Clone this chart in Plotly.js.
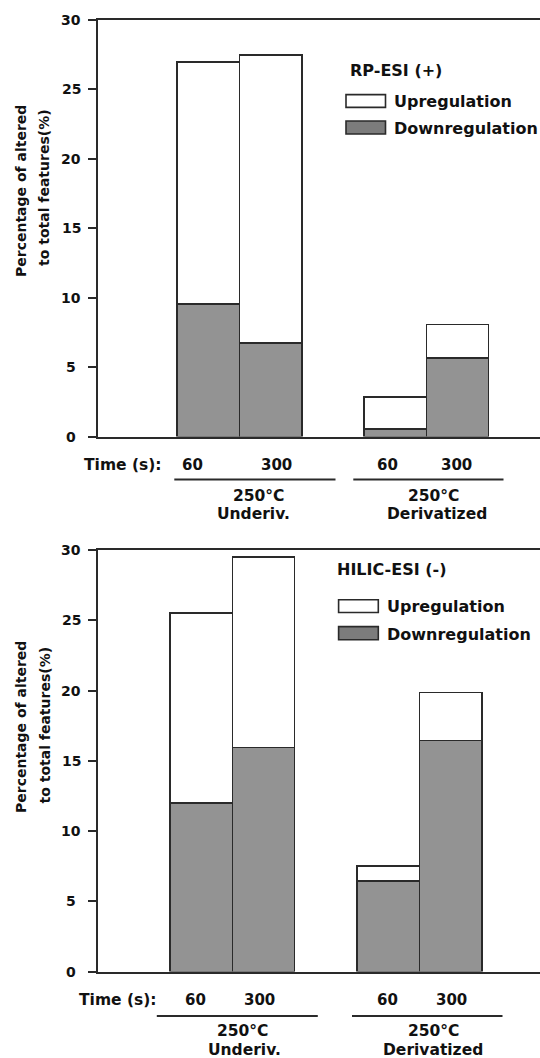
<!DOCTYPE html>
<html>
<head>
<meta charset="utf-8">
<script src="https://cdn.plot.ly/plotly-3.0.1.min.js"></script>
<style>html,body{margin:0;padding:0;background:#fff;}#chart{width:540px;height:1058px;}</style>
</head>
<body>
<div id="chart"></div>
<script>
// ---- data ----
const categories = ['Underiv. 60 s', 'Underiv. 300 s', 'Derivatized 60 s', 'Derivatized 300 s'];
const timeLabels = ['60', '300', '60', '300'];
const groupLabels = ['250°C<br>Underiv.', '250°C<br>Derivatized'];
const seriesNames = ['Downregulation', 'Upregulation'];
const panelTitles = ['RP-ESI (+)', 'HILIC-ESI (-)'];
const rpDown = [9.55, 6.75, 0.55, 5.65];
const rpUp = [17.4, 20.7, 2.3, 2.4];
const hilicDown = [12.0, 15.93, 6.45, 16.44];
const hilicUp = [13.5, 13.57, 1.06, 3.42];
const yTicks = [0, 5, 10, 15, 20, 25, 30];

// ---- helpers ----
const W = 540, H = 1058;
const px = x => x / W;
const py = y => 1 - y / H;
const FONT = 'DejaVu Sans';
const INK = '#111';
const LINE = '#2a2a2a';
const xPos = categories.map((c, i) => i + (i >= 2 ? 1 : 0));

const downColor = '#939393';
const upColor = '#ffffff';

function barTrace(vals, name, color, xa, ya) {
  return {
    type: 'bar', x: xPos, y: vals, name: name, xaxis: xa, yaxis: ya,
    text: categories, hoverinfo: 'y+name+text', textposition: 'none',
    marker: {color: color, line: {color: LINE, width: 1.6}},
    showlegend: false
  };
}

const data = [
  barTrace(rpDown, seriesNames[0], downColor, 'x', 'y'),
  barTrace(rpUp, seriesNames[1], upColor, 'x', 'y'),
  barTrace(hilicDown, seriesNames[0], downColor, 'x2', 'y2'),
  barTrace(hilicUp, seriesNames[1], upColor, 'x2', 'y2')
];

const xCommon = {
  showgrid: false, zeroline: false, showticklabels: false, ticks: '',
  showline: true, linecolor: LINE, linewidth: 2, mirror: true, fixedrange: true
};
const yCommon = {
  range: [0, 30], showgrid: false, zeroline: false, showticklabels: false,
  tickvals: yTicks, ticks: 'outside', ticklen: 8, tickwidth: 2, tickcolor: LINE,
  showline: true, linecolor: LINE, linewidth: 2, mirror: false, fixedrange: true
};

const layout = {
  width: W, height: H,
  margin: {l: 0, r: 0, t: 0, b: 0},
  paper_bgcolor: '#fff', plot_bgcolor: '#fff',
  barmode: 'stack', bargap: 0,
  showlegend: false,
  xaxis: Object.assign({}, xCommon, {domain: [px(97.7), 1], range: [-1.778, 5.324], anchor: 'y'}),
  yaxis: Object.assign({}, yCommon, {domain: [py(436.6), py(19.5)], anchor: 'x'}),
  xaxis2: Object.assign({}, xCommon, {domain: [px(97.7), 1], range: [-1.66, 5.435], anchor: 'y2'}),
  yaxis2: Object.assign({}, yCommon, {domain: [py(971.5), py(550)], anchor: 'x2'}),
  annotations: [],
  shapes: []
};

function txt(text, x, y, size, anchor, extra) {
  return Object.assign({
    text: text, x: x, y: y, xref: 'paper', yref: 'paper', showarrow: false,
    xanchor: anchor || 'center', yanchor: 'middle',
    font: {family: FONT, size: size, color: INK, weight: 'bold'}
  }, extra || {});
}

// panel-specific placements (pixels)
const panels = [
  {ya: 'y', tickX: 71, titleL1: [20.5, 191.5], titleL2: [44, 188],
   legTitle: [348, 70.5], boxX: [346, 385.5], box1: [94.6, 107.4], box2: [121, 134], legTextX: 392,
   rowY: 464.5, timeX: 123, tX: [192, 276.5, 387.5, 456.5], lineY: 479.5,
   lines: [[174.3, 335.5], [353.3, 503.5]], g1: 495.5, g2: 513.5, gX: [[258.5, 253.5], [433.8, 437]]},
  {ya: 'y2', tickX: 71, titleL1: [21, 727], titleL2: [44.5, 725],
   legTitle: [335, 569.7], boxX: [338.6, 378.3], box1: [599.7, 612.5], box2: [626.6, 639.8], legTextX: 385,
   rowY: 999.5, timeX: 117.6, tX: [195.7, 259.6, 387.2, 451.5], lineY: 1016,
   lines: [[156.8, 317.8], [352, 502.5]], g1: 1030.5, g2: 1050, gX: [[242.5, 244], [433.5, 433.3]]}
];

panels.forEach((p, k) => {
  const A = layout.annotations, S = layout.shapes;
  // tick labels (centred, via the y scale)
  yTicks.forEach(v => A.push({
    text: String(v), x: px(p.tickX), y: v, xref: 'paper', yref: p.ya, showarrow: false,
    xanchor: 'center', yanchor: 'middle',
    font: {family: FONT, size: 14, color: INK, weight: 'bold'}
  }));
  // y title (two lines)
  A.push(txt('Percentage of altered', px(p.titleL1[0]), py(p.titleL1[1]), 14, 'center', {textangle: -90}));
  A.push(txt('to total features(%)', px(p.titleL2[0]), py(p.titleL2[1]), 14, 'center', {textangle: -90}));
  // legend
  A.push(txt(panelTitles[k], px(p.legTitle[0]), py(p.legTitle[1]), 16, 'left'));
  S.push({type: 'rect', xref: 'paper', yref: 'paper', x0: px(p.boxX[0]), x1: px(p.boxX[1]),
    y0: py(p.box1[1]), y1: py(p.box1[0]), fillcolor: upColor, line: {color: LINE, width: 1.6}});
  S.push({type: 'rect', xref: 'paper', yref: 'paper', x0: px(p.boxX[0]), x1: px(p.boxX[1]),
    y0: py(p.box2[1]), y1: py(p.box2[0]), fillcolor: '#7c7c7c', line: {color: LINE, width: 1.6}});
  A.push(txt(seriesNames[1], px(p.legTextX), py((p.box1[0] + p.box1[1]) / 2 + 0.5), 16, 'left'));
  A.push(txt(seriesNames[0], px(p.legTextX), py((p.box2[0] + p.box2[1]) / 2 + 1.5), 16, 'left'));
  // category row
  A.push(txt('Time (s):', px(p.timeX), py(p.rowY), 15.5, 'center'));
  timeLabels.forEach((t, i) => A.push(txt(t, px(p.tX[i]), py(p.rowY), 15, 'center')));
  p.lines.forEach(l => S.push({type: 'line', xref: 'paper', yref: 'paper',
    x0: px(l[0]), x1: px(l[1]), y0: py(p.lineY), y1: py(p.lineY), line: {color: LINE, width: 2}}));
  groupLabels.forEach((g, i) => {
    const parts = g.split('<br>');
    A.push(txt(parts[0], px(p.gX[i][0]), py(p.g1), 15.5, 'center'));
    A.push(txt(parts[1], px(p.gX[i][1]), py(p.g2), 15.5, 'center'));
  });
});

Plotly.newPlot('chart', data, layout, {staticPlot: true, displayModeBar: false});
</script>
</body>
</html>
